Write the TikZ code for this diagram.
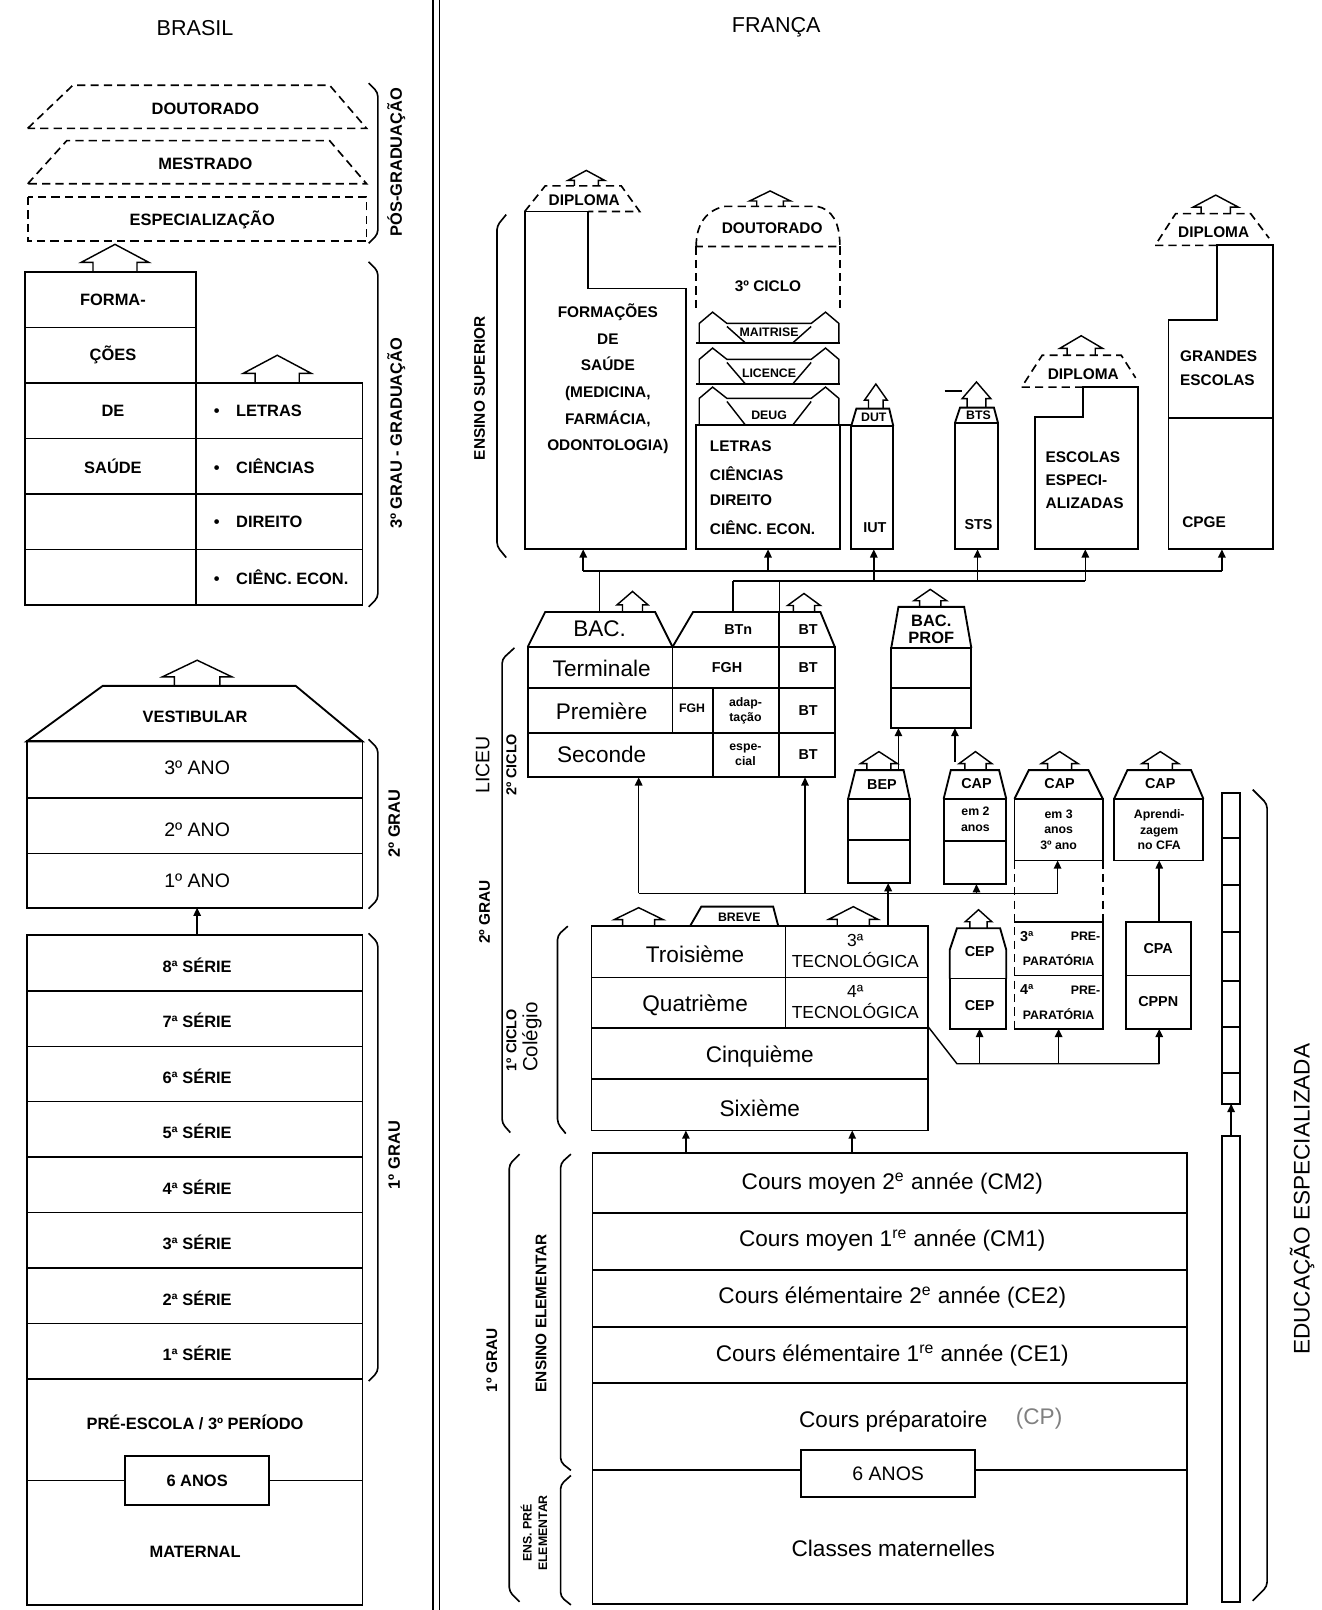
\documentclass[tikz,border=0pt]{standalone}
\usepackage{fontspec}
\setmainfont{Liberation Sans}
\usetikzlibrary{arrows.meta,positioning,calc}

\tikzset{
  box/.style={draw, line width=0.9pt},
  fine/.style={line width=0.7pt},
  dashbox/.style={draw, line width=0.8pt, dash pattern=on 4pt off 2.5pt},
  feed/.style={line width=0.8pt, -{Triangle[length=4pt,width=3.6pt]}},
  bracket/.style={line width=0.8pt, rounded corners=2pt},
  labb/.style={font=\fontsize{8}{9}\selectfont\bfseries, inner sep=0pt},
  labf/.style={font=\fontsize{7.5}{13}\selectfont\bfseries, inner sep=0pt},
  labm/.style={font=\fontsize{7}{8}\selectfont\bfseries, inner sep=0pt},
  labs/.style={font=\fontsize{6}{7.5}\selectfont\bfseries, inner sep=0pt, align=center},
  ano/.style={font=\fontsize{9.5}{11}\selectfont, inner sep=0pt},
  grade/.style={font=\fontsize{11}{12}\selectfont, inner sep=0pt},
  tecno/.style={font=\fontsize{8.5}{10.5}\selectfont, inner sep=0pt, align=center},
  title/.style={font=\fontsize{10.5}{12}\selectfont, inner sep=0pt},
  vert/.style={rotate=90, inner sep=0pt},
}
% hollow up arrow: x, base y, half width, height
\newcommand{\hollowup}[4]{%
  \draw[fine] ({#1-0.65*#3},#2) -- ({#1-0.65*#3},{#2-0.35*#4}) -- ({#1-#3},{#2-0.35*#4})
    -- (#1,{#2-#4}) -- ({#1+#3},{#2-0.35*#4}) -- ({#1+0.65*#3},{#2-0.35*#4}) -- ({#1+0.65*#3},#2);}
% one degree band of the university column: top y, bottom y, label, name
\newcommand{\ribbon}[4]{%
  \draw[fine] (681,#2) -- (681,{#1+11}) -- (694,#1) -- (708,{#1+11}) -- (790,{#1+11})
    -- (804,#1) -- (817,{#1+11}) -- (817,#2);
  \draw[fine] (708,{#1+14}) -- (726,#2);
  \draw[fine] (790,{#1+14}) -- (772,#2);
  \draw[line width=1.1pt] (678,#2) -- (818,#2);
  \node[labs] (#4) at (749,{#2-10}) {#3};}

\begin{document}
\begin{tikzpicture}[x=0.5pt,y=-0.5pt]
\useasboundingbox (0,0) rectangle (1287,1568);

\node[title] (br-title) at (190,27) {BRASIL};
\node[title] (fr-title) at (756,27) {FRANÇA};
\draw[line width=0.8pt] (422,0) -- (422,1568);
\draw[line width=0.8pt] (428,0) -- (428,1568);

% ---------- Brasil: pos-graduacao
\draw[dashbox] (27,125) -- (71,83) -- (321,83) -- (357,125) -- cycle;
\draw[dashbox] (27,179) -- (65,137) -- (321,137) -- (357,179) -- cycle;
\draw[dashbox] (27,192) rectangle (357,235);
\node[labb] (br-dout) at (200,106) {DOUTORADO};
\node[labb] (br-mest) at (200,160) {MESTRADO};
\node[labb] (br-espec) at (197,214) {ESPECIALIZAÇÃO};

% ---------- Brasil: graduacao
\hollowup{112}{265}{33}{27}
\hollowup{270}{373}{33}{27}
\draw[box] (24,265) rectangle (191,589);
\draw[box] (191,373) rectangle (353,589);
\foreach \y in {319,373} \draw[fine] (24,\y) -- (191,\y);
\foreach \y in {427,481,535} \draw[fine] (24,\y) -- (353,\y);
\foreach \t [count=\i from 0] in {FORMA-,ÇÕES,DE,SAÚDE}
  \node[labb] (br-saude\i) at (110,{292+54*\i}) {\t};
\foreach \t [count=\i from 0] in {LETRAS,CIÊNCIAS,DIREITO,CIÊNC. ECON.}
  \node[labb, anchor=west] (br-curso\i) at (208,{400+54*\i}) {\textbullet\hspace{8pt}\t};
\draw[bracket] (359,81) -- (368,90) -- (368,228) -- (359,237);
\node[labb, vert] (br-pos) at (386,158) {PÓS-GRADUAÇÃO};
\draw[bracket] (359,255) -- (368,264) -- (368,582) -- (359,591);
\node[labb, vert] (br-grad) at (386,422) {3º GRAU - GRADUAÇÃO};

% ---------- Brasil: 2o grau
\hollowup{192}{668}{34}{25}
\draw[box] (26,722) -- (100,668) -- (288,668) -- (353,722) -- cycle;
\node[labb] (br-vest) at (190,698) {VESTIBULAR};
\draw[box] (26,722) rectangle (353,884);
\foreach \y in {777,831} \draw[fine] (26,\y) -- (353,\y);
\node[ano] (br-ano3) at (192,748) {3º ANO};
\node[ano] (br-ano2) at (192,808) {2º ANO};
\node[ano] (br-ano1) at (192,858) {1º ANO};
\draw[bracket] (359,720) -- (368,729) -- (368,876) -- (359,885);
\node[labb, vert] (br-2grau) at (384,802) {2º GRAU};

% ---------- Brasil: 1o grau e pre-escola
\draw[feed] (192,911) -- (192,884);
\draw[box] (26,911) rectangle (353,1563);
\foreach \y in {965,1019,1073,1127,1181,1235,1289,1343} \draw[fine] (26,\y) -- (353,\y);
\foreach \n [count=\i from 0] in {8,7,6,5,4,3,2,1}
  \node[labb] (br-serie\n) at (192,{940+54*\i}) {{\n}ª SÉRIE};
\draw[bracket] (359,909) -- (368,918) -- (368,1336) -- (359,1345);
\node[labb, vert] (br-1grau) at (384,1125) {1º GRAU};
\node[labb] (br-pre) at (190,1385) {PRÉ-ESCOLA / 3º PERÍODO};
\node[box, labb, minimum width=70pt, minimum height=24pt] (br-6anos) at (192,1442) {6 ANOS};
\draw[fine] (26,1442) -- (br-6anos.west);
\draw[fine] (br-6anos.east) -- (353,1442);
\node[labb] (br-mat) at (190,1511) {MATERNAL};

% ---------- Franca: ensino superior
\draw[box] (511,535) -- (511,206) -- (573,206) -- (573,281) -- (668,281) -- (668,535) -- cycle;
\node[labf, align=center] (fr-saude) at (592,369) {FORMAÇÕES\\DE\\SAÚDE\\(MEDICINA,\\FARMÁCIA,\\ODONTOLOGIA)};
\draw[dashbox] (511,206) -- (531,181) -- (605,181) -- (623,206) -- (573,206);
\node[labf] (fr-dipl1) at (569,195) {DIPLOMA};
\hollowup{571}{181}{18}{15}

\draw[dashbox] (678,240) .. controls (678,216) and (690,204) .. (706,201) -- (796,201)
  .. controls (810,204) and (818,216) .. (818,240) -- cycle;
\draw[dashbox] (678,240) -- (678,304);
\draw[dashbox] (818,240) -- (818,304);
\hollowup{750}{201}{20}{15}
\node[labf] (fr-dout) at (752,222) {DOUTORADO};
\node[labf] (fr-ciclo3) at (748,279) {3º CICLO};
\ribbon{304}{334}{MAITRISE}{fr-mait}
\ribbon{339}{374}{LICENCE}{fr-lic}
\ribbon{377}{414}{DEUG}{fr-deug}
\draw[box] (678,414) rectangle (818,535);
\draw[fine] (818,414) -- (829,414);
\foreach \t [count=\i from 0] in {LETRAS,CIÊNCIAS,DIREITO,CIÊNC. ECON.}
  \node[labf, anchor=west] (fr-curso\i) at (691,{435+26.3*\i}) {\t};

\draw[box] (829,415) rectangle (870,535);
\draw[box] (829,415) -- (834,398) -- (866,398) -- (870,415);
\node[labs] (fr-dut) at (851,406) {DUT};
\hollowup{853}{398}{11}{24}
\node[labm] (fr-iut) at (852,514) {IUT};

\draw[box] (930,412) rectangle (972,535);
\draw[box] (930,412) -- (935,397) -- (968,397) -- (972,412);
\node[labs] (fr-bts) at (953,404) {BTS};
\hollowup{951}{397}{14}{25}
\draw[fine] (920,381) -- (937,381);
\node[labm] (fr-sts) at (953,511) {STS};

\draw[box] (1008,535) -- (1008,406) -- (1055,406) -- (1055,377) -- (1108,377) -- (1108,535) -- cycle;
\foreach \t [count=\i from 0] in {ESCOLAS,ESPECI-,ALIZADAS}
  \node[labf, anchor=west] (fr-esc\i) at (1018,{445+22.5*\i}) {\t};
\draw[dashbox] (1055,377) -- (995,377) -- (1015,346) -- (1092,346) -- (1106,368);
\node[labf] (fr-dipl2) at (1055,364) {DIPLOMA};
\hollowup{1053}{346}{21}{19}

\draw[box] (1138,535) -- (1138,312) -- (1185,312) -- (1185,239) -- (1240,239) -- (1240,535) -- cycle;
\draw[box] (1138,407) -- (1240,407);
\node[labf, anchor=west] (fr-grandes) at (1149,347) {GRANDES};
\node[labf, anchor=west] (fr-escolas) at (1149,370) {ESCOLAS};
\node[labf, anchor=west] (fr-cpge) at (1151,509) {CPGE};
\draw[dashbox] (1185,239) -- (1125,239) -- (1145,208) -- (1218,208) -- (1236,232);
\node[labf] (fr-dipl3) at (1182,226) {DIPLOMA};
\hollowup{1184}{208}{22}{18}

\draw[bracket] (493,209) -- (484,220) -- (484,532) -- (493,543);
\node[labf, vert] (fr-sup) at (467,378) {ENSINO SUPERIOR};

% ---------- acesso ao ensino superior
\draw[fine] (568,556) -- (1190,556);
\draw[fine] (714,566) -- (1057,566);
\foreach \x in {568,748,1190} \draw[feed] (\x,556) -- (\x,535);
\foreach \x in {851,952,1057} \draw[feed] (\x,566) -- (\x,535);
\draw[fine] (584,596) -- (584,556);
\draw[fine] (714,596) -- (714,566);
\draw[fine] (759,596) -- (759,566);

% ---------- Liceu
\draw[box] (514,630) -- (531,596) -- (638,596) -- (655,630);
\node[grade] (fr-bac) at (584,612) {BAC.};
\hollowup{616}{596}{15}{20}
\draw[box] (655,630) -- (675,596) -- (799,596) -- (813,630);
\draw[box] (759,596) -- (759,630);
\node[labm] (fr-btn) at (719,613) {BTn};
\node[labm] (fr-bt0) at (787,613) {BT};
\hollowup{783}{596}{16}{18}
\draw[box] (514,630) rectangle (813,757);
\draw[box] (514,670) -- (813,670);
\draw[box] (514,714) -- (813,714);
\draw[box] (655,630) -- (655,714);
\draw[box] (694,670) -- (694,757);
\draw[box] (759,630) -- (759,757);
\node[grade] (fr-term) at (586,651) {Terminale};
\node[grade] (fr-prem) at (586,693) {Première};
\node[grade] (fr-sec) at (586,735) {Seconde};
\node[labm] (fr-fgh1) at (708,650) {FGH};
\node[labs] (fr-fgh2) at (674,690) {FGH};
\node[labs] (fr-adap) at (726,692) {adap-\\tação};
\node[labs] (fr-esp) at (726,735) {espe-\\cial};
\foreach \y [count=\i] in {650,692,735} \node[labm] (fr-bt\i) at (787,\y) {BT};

\draw[bracket] (501,631) -- (489,642) -- (489,1094) -- (497,1103);
\node[font=\fontsize{9.5}{11}\selectfont, vert] (fr-liceu) at (470,745) {LICEU};
\node[labm, vert] (fr-2ciclo) at (498,745) {2º CICLO};
\node[labf, vert] (fr-2grau) at (472,888) {2º GRAU};

% ---------- bac pro, BEP, CAP
\draw[box] (868,631) -- (875,591) -- (939,591) -- (946,631);
\draw[box] (868,631) rectangle (946,709);
\draw[box] (868,670) -- (946,670);
\node[labm, align=center, font=\fontsize{8}{8.5}\selectfont\bfseries] (fr-bacpro) at (907,613) {BAC.\\PROF};
\hollowup{906}{591}{16}{17}
\draw[feed] (875,751) -- (875,709);
\draw[feed] (930,742) -- (930,709);

\draw[box] (826,778) -- (833,750) -- (880,750) -- (886,778);
\draw[box] (826,778) rectangle (886,860);
\draw[box] (826,818) -- (886,818);
\node[labm] (fr-bep) at (859,764) {BEP};
\hollowup{856}{750}{18}{18}

\draw[box] (919,778) -- (926,750) -- (973,750) -- (980,778);
\draw[box] (919,778) rectangle (980,861);
\draw[box] (919,819) -- (980,819);
\node[labm] (fr-cap1) at (951,763) {CAP};
\node[labs] (fr-cap1t) at (950,798) {em 2\\anos};
\hollowup{950}{750}{16}{18}

\draw[box] (988,778) -- (1002,750) -- (1060,750) -- (1074,778);
\draw[box] (988,778) rectangle (1074,838);
\node[labm] (fr-cap2) at (1032,763) {CAP};
\node[labs] (fr-cap2t) at (1031,808) {em 3\\anos\\3º ano};
\hollowup{1032}{750}{18}{18}

\draw[box] (1085,778) -- (1098,750) -- (1160,750) -- (1172,778);
\draw[box] (1085,778) rectangle (1172,838);
\node[labm] (fr-cap3) at (1130,763) {CAP};
\node[labs] (fr-cap3t) at (1129,808) {Aprendi-\\zagem\\no CFA};
\hollowup{1130}{750}{18}{18}

\draw[fine] (622,870) -- (1030,870);
\foreach \x in {622,784} \draw[feed] (\x,870) -- (\x,757);
\draw[feed] (865,870) -- (865,860);
\draw[feed] (951,870) -- (951,861);
\draw[feed] (1030,870) -- (1030,838);
\draw[fine] (865,902) -- (865,870);

% ---------- Colegio
\hollowup{622}{902}{24}{18}
\draw[box] (672,902) -- (683,883) -- (753,883) -- (758,902);
\node[labs] (fr-breve) at (720,893) {BREVE};
\hollowup{831}{902}{24}{19}
\draw[box] (576,902) rectangle (904,1101);
\foreach \y in {952,1001,1051} \draw[box] (576,\y) -- (904,\y);
\draw[box] (765,902) -- (765,1001);
\node[grade] (fr-3e) at (677,929) {Troisième};
\node[grade] (fr-4e) at (677,979) {Quatrième};
\node[tecno] (fr-3tec) at (833,926) {3ª\\TECNOLÓGICA};
\node[tecno] (fr-4tec) at (833,976) {4ª\\TECNOLÓGICA};
\node[grade] (fr-5e) at (740,1029) {Cinquième};
\node[grade] (fr-6e) at (740,1079) {Sixième};

\draw[fine] (904,1000) -- (932,1036) -- (1129,1036);
\foreach \x in {954,1031,1129} \draw[feed] (\x,1036) -- (\x,1002);

\draw[box] (925,953) -- (925,925) -- (932,904) -- (974,904) -- (980,925) -- (980,953);
\draw[box] (925,953) rectangle (980,1002);
\node[labm] (fr-cep1) at (954,927) {CEP};
\node[labm] (fr-cep2) at (954,979) {CEP};
\hollowup{953}{904}{13}{18}

\draw[box] (988,898) -- (1074,898) -- (1074,1002) -- (988,1002);
\draw[box] (988,950) -- (1074,950);
\draw[dashbox] (988,838) -- (988,1002);
\draw[dashbox] (1074,838) -- (1074,898);
\node[labm, anchor=west] (fr-3p) at (993,912) {3ª};
\node[labs, anchor=east] (fr-3pre) at (1072,912) {PRE-};
\node[labs] (fr-3par) at (1031,935) {PARATÓRIA};
\node[labm, anchor=west] (fr-4p) at (993,964) {4ª};
\node[labs, anchor=east] (fr-4pre) at (1072,964) {PRE-};
\node[labs] (fr-4par) at (1031,988) {PARATÓRIA};

\draw[box] (1097,898) rectangle (1160,1002);
\draw[box] (1097,950) -- (1160,950);
\node[labm] (fr-cpa) at (1128,924) {CPA};
\node[labm] (fr-cppn) at (1128,975) {CPPN};
\draw[feed] (1129,898) -- (1129,838);

\draw[bracket] (553,902) -- (543,911) -- (543,1094) -- (551,1104);
\node[labm, vert] (fr-1ciclo) at (498,1013) {1º CICLO};
\node[font=\fontsize{10}{11}\selectfont, vert] (fr-colegio) at (518,1010) {Colégio};

% ---------- educacao especializada
\draw[box] (1190,772) rectangle (1208,1075);
\foreach \y in {816,862,908,955,1000,1045} \draw[box] (1190,\y) -- (1208,\y);
\draw[box] (1190,1106) rectangle (1208,1560);
\draw[feed] (1199,1106) -- (1199,1075);
\draw[bracket] (1220,769) -- (1234,783) -- (1234,1545) -- (1220,1559);
\node[grade, vert] (fr-educ) at (1268,1168) {EDUCAÇÃO ESPECIALIZADA};

% ---------- ensino elementar e pre-elementar
\draw[feed] (668,1123) -- (668,1101);
\draw[feed] (830,1123) -- (830,1101);
\draw[box] (577,1123) rectangle (1156,1562);
\foreach \y in {1181,1237,1292,1347} \draw[box] (577,\y) -- (1156,\y);
\node[grade] (fr-cm2) at (869,1153) {Cours moyen 2\textsuperscript{e} année (CM2)};
\node[grade] (fr-cm1) at (869,1208) {Cours moyen 1\textsuperscript{re} année (CM1)};
\node[grade] (fr-ce2) at (869,1264) {Cours élémentaire 2\textsuperscript{e} année (CE2)};
\node[grade] (fr-ce1) at (869,1320) {Cours élémentaire 1\textsuperscript{re} année (CE1)};
\node[grade] (fr-cp) at (870,1384) {Cours préparatoire};
\node[grade, text=black!50] (fr-cpab) at (1012,1382) {(CP)};
\node[box, grade, font=\fontsize{9.5}{11}\selectfont, minimum width=84.5pt, minimum height=23pt] (fr-6anos) at (865,1435) {6 ANOS};
\draw[box] (577,1432) -- (fr-6anos.west |- 0,1432);
\draw[box] (fr-6anos.east |- 0,1432) -- (1156,1432);
\node[grade] (fr-mat) at (870,1508) {Classes maternelles};

\draw[bracket] (506,1124) -- (496,1134) -- (496,1550) -- (506,1560);
\node[labf, vert] (fr-1grau) at (479,1325) {1º GRAU};
\draw[bracket] (556,1124) -- (546,1133) -- (546,1424) -- (556,1432);
\node[labm, vert, font=\fontsize{7.5}{8}\selectfont\bfseries] (fr-elem) at (527,1279) {ENSINO ELEMENTAR};
\draw[bracket] (556,1437) -- (546,1446) -- (546,1555) -- (556,1563);
\node[labs, vert] (fr-preelem) at (520,1493) {ENS. PRÉ\\ELEMENTAR};
\end{tikzpicture}
\end{document}
